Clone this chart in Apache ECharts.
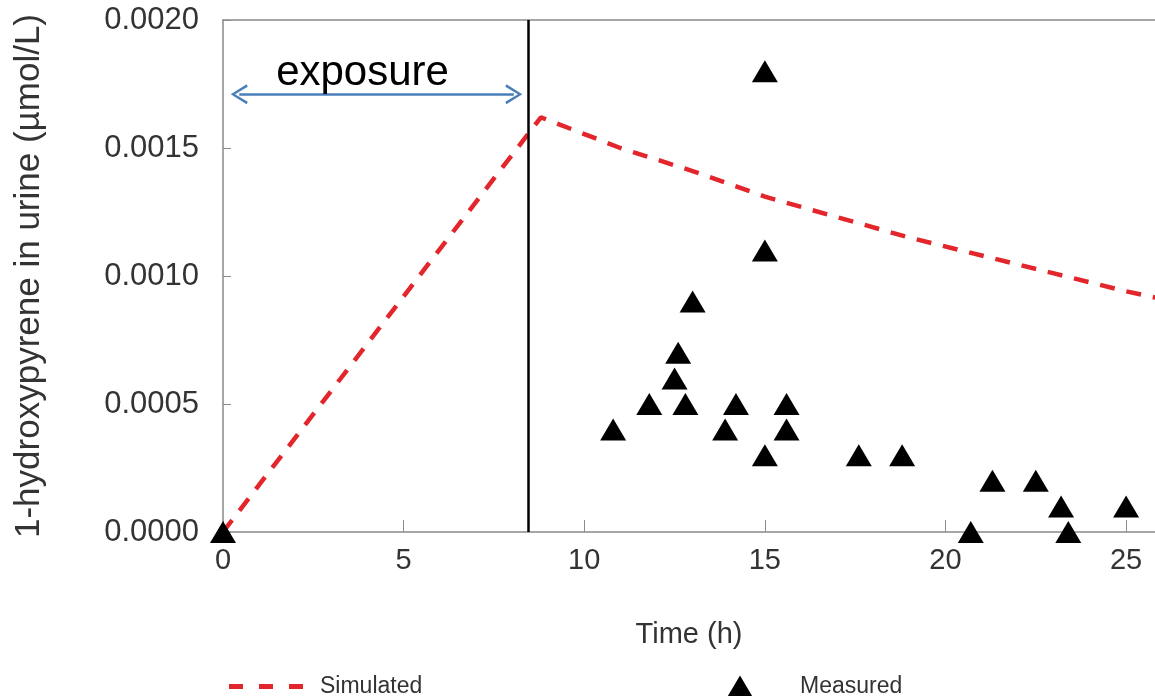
<!DOCTYPE html>
<html>
<head>
<meta charset="utf-8">
<title>1-hydroxypyrene in urine</title>
<script src="https://cdn.jsdelivr.net/npm/echarts@6/dist/echarts.min.js"></script>
<style>
  html, body { margin: 0; padding: 0; background: #fff; }
  #chart { width: 1155px; height: 696px; }
</style>
</head>
<body>
<div id="chart"></div>
<script>
// simulated curve (time h, µmol/L)
var simTime = [0, 8.8, 11, 13, 15, 17, 19, 21, 23, 25, 26]
var simValue = [0, 0.00162, 0.00150, 0.00141, 0.00131, 0.00123, 0.00115, 0.00108, 0.00101, 0.00094, 0.00091]

// measured points
var measTime = [0, 10.8, 11.8, 12.5, 12.6, 12.8, 13.0, 13.9, 14.2, 15.0, 15.0, 15.0, 15.6, 15.6, 17.6, 18.8, 20.7, 21.3, 22.5, 23.2, 23.4, 25.0]
var measValue = [0, 0.0004, 0.0005, 0.0006, 0.0007, 0.0005, 0.0009, 0.0004, 0.0005, 0.0018, 0.0011, 0.0003, 0.0005, 0.0004, 0.0003, 0.0003, 0, 0.0002, 0.0002, 0.0001, 0, 0.0001]

var exposureEnd = 8.45
var arrowFrom = [0.45, 0.00171]
var arrowTo = [8.05, 0.00171]

var font = 'Arial, "Liberation Sans", sans-serif'
var chevron = 'path://M0,17 L10,0 L20,17 L17.6,18.2 L10,4.6 L2.4,18.2 Z'
// three dashes for the legend icon
var dashIcon = 'path://M0,0 H14 V5 H0 Z M30,0 H44 V5 H30 Z M60,0 H74 V5 H60 Z'

var chart = echarts.init(document.getElementById('chart'))
chart.setOption({
  animation: false,
  grid: {
    left: 223,
    right: 0,
    top: 20,
    bottom: 164
  },
  legend: [
    {
      data: [{ name: 'Simulated', icon: dashIcon }],
      left: 224,
      top: 670,
      itemWidth: 74,
      itemHeight: 5,
      textStyle: { fontFamily: font, fontSize: 23, color: '#333', padding: [0, 0, 0, 12] }
    },
    {
      data: ['Measured'],
      left: 722,
      top: 670,
      itemWidth: 26,
      itemHeight: 22,
      textStyle: { fontFamily: font, fontSize: 23, color: '#333', padding: [0, 0, 0, 42] }
    }
  ],
  xAxis: [
    {
      type: 'value',
      min: 0,
      max: 25.8,
      interval: 5,
      name: 'Time (h)',
      nameLocation: 'middle',
      nameGap: 88,
      nameTextStyle: { fontFamily: font, fontSize: 29, color: '#333' },
      axisLine: { lineStyle: { color: '#8a8a8a', width: 1.5 } },
      axisTick: { inside: true, length: 12, lineStyle: { color: '#8a8a8a' } },
      axisLabel: {
        fontFamily: font, fontSize: 29, color: '#333', margin: 14,
        showMaxLabel: false
      },
      splitLine: { show: false }
    },
    {
      // top border only
      type: 'value',
      position: 'top',
      min: 0,
      max: 25.8,
      axisLine: { show: true, lineStyle: { color: '#8a8a8a', width: 1.5 } },
      axisTick: { show: false },
      axisLabel: { show: false },
      splitLine: { show: false }
    }
  ],
  yAxis: {
    type: 'value',
    min: 0,
    max: 0.002,
    interval: 0.0005,
    name: '1-hydroxypyrene in urine (µmol/L)',
    nameLocation: 'middle',
    nameGap: 176,
    nameTextStyle: { fontFamily: font, fontSize: 35, color: '#333' },
    axisLine: { lineStyle: { color: '#8a8a8a', width: 1.5 } },
    axisTick: { inside: true, length: 8, lineStyle: { color: '#8a8a8a' } },
    axisLabel: {
      fontFamily: font, fontSize: 31, color: '#333', margin: 24,
      formatter: function(v) { return v.toFixed(4) }
    },
    splitLine: { show: false }
  },
  series: [
    {
      name: 'Simulated',
      type: 'line',
      symbol: 'none',
      data: simTime.map(function(t, i) { return [t, simValue[i]] }),
      lineStyle: { color: '#e3262b', width: 4.5, type: [15, 12] },
      itemStyle: { color: '#e3262b' },
      z: 3
    },
    {
      name: 'Measured',
      type: 'scatter',
      symbol: 'triangle',
      symbolSize: [26, 22],
      itemStyle: { color: '#000', opacity: 1 },
      data: measTime.map(function(t, i) { return [t, measValue[i]] }),
      z: 4,
      markLine: {
        silent: true,
        animation: false,
        symbol: ['none', 'none'],
        data: [
          {
            xAxis: exposureEnd,
            lineStyle: { color: '#000', width: 2.5, type: 'solid' },
            label: { show: false }
          },
          [
            { coord: arrowFrom, symbol: chevron, symbolSize: [20, 17] },
            {
              coord: arrowTo, symbol: chevron, symbolSize: [20, 17],
              lineStyle: { color: '#4a7ebb', width: 2.5, type: 'solid' },
              label: {
                show: true,
                position: 'middle',
                formatter: 'exposure',
                fontFamily: font,
                fontSize: 42,
                color: '#000',
                distance: 0,
                padding: [0, 28, 0, 0]
              }
            }
          ]
        ]
      }
    }
  ]
})
</script>
</body>
</html>
